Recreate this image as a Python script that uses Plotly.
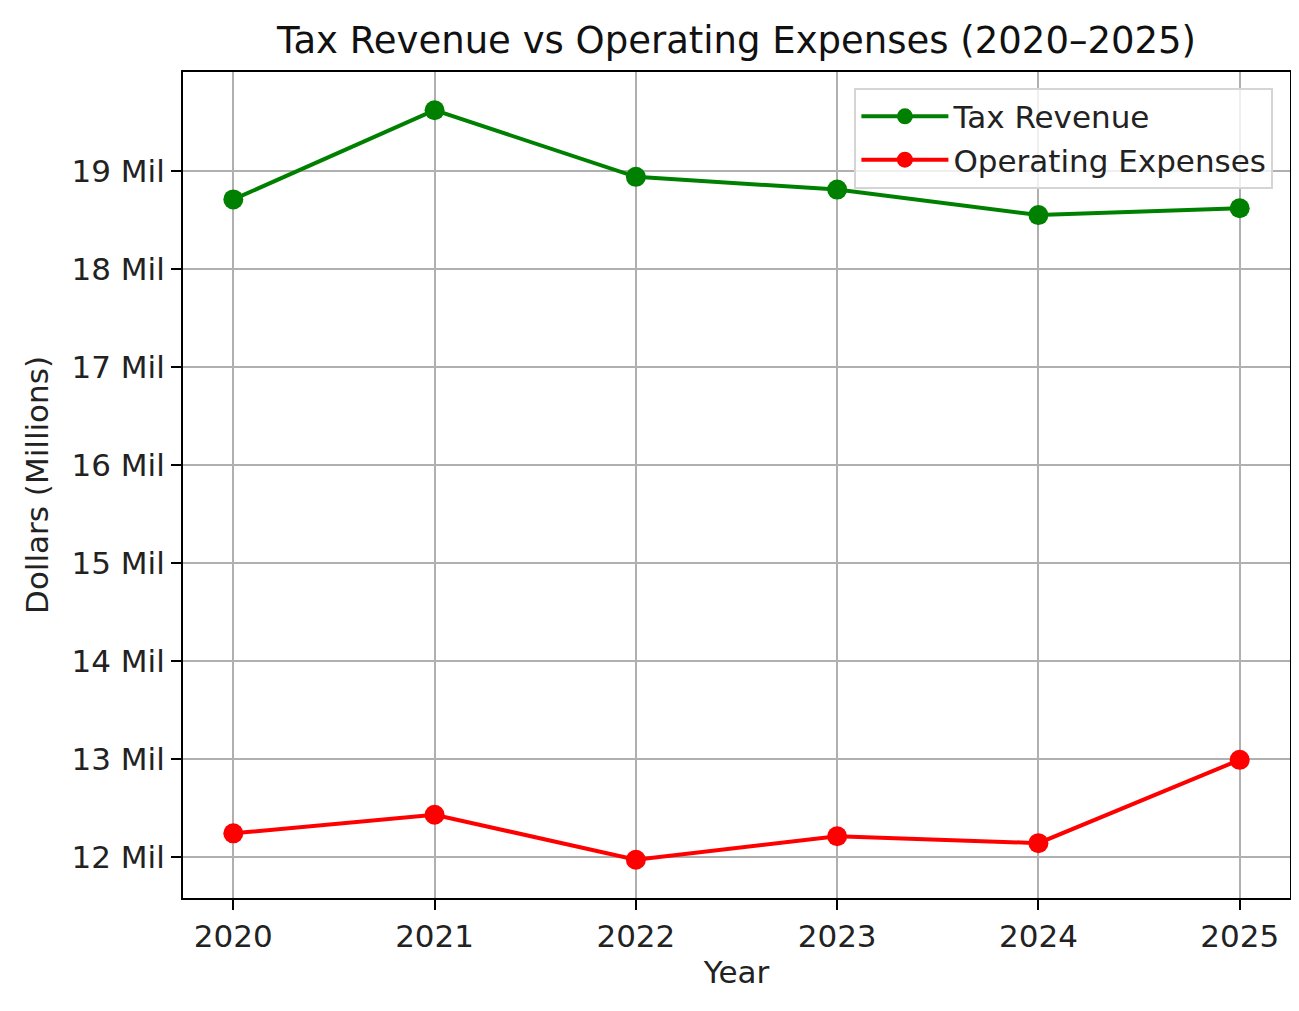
import plotly.graph_objects as go

years = [2020, 2021, 2022, 2023, 2024, 2025]
tax_revenue = [18.71, 19.62, 18.94, 18.81, 18.55, 18.62]
operating_expenses = [12.24, 12.43, 11.97, 12.21, 12.14, 12.99]
y_tick_vals = [12, 13, 14, 15, 16, 17, 18, 19]
y_tick_text = ["12 Mil", "13 Mil", "14 Mil", "15 Mil", "16 Mil", "17 Mil", "18 Mil", "19 Mil"]

# page body has an 8px margin; figure is sized to fit the window inside it
OFF = 8
W, H = 1299 - 2 * OFF, 1011 - 2 * OFF
L, R, T, B = 183 - OFF, 9 - OFF, 72 - OFF, 113 - OFF
FONT = "DejaVu Sans"

fig = go.Figure()
fig.add_trace(go.Scatter(x=years, y=tax_revenue, mode="lines+markers", name="Tax Revenue",
                         line=dict(color="green", width=4), marker=dict(size=20, color="green")))
fig.add_trace(go.Scatter(x=years, y=operating_expenses, mode="lines+markers", name="Operating Expenses",
                         line=dict(color="red", width=4), marker=dict(size=20, color="red")))

fig.update_layout(
    width=W, height=H,
    margin=dict(l=L, r=R, t=T, b=B, autoexpand=False),
    paper_bgcolor="white", plot_bgcolor="white",
    font=dict(family=FONT, size=31, color="#222222"),
    title=dict(text="Tax Revenue vs Operating Expenses (2020–2025)", x=(L + (W - R)) / 2 / W, xanchor="center",
               y=1 - 32 / H, yanchor="middle", font=dict(size=37, color="#111111")),
    showlegend=True,
    legend=dict(x=0.985, y=0.981, xanchor="right", yanchor="top",
                bgcolor="rgba(255,255,255,0.8)", bordercolor="#d5d5d5", borderwidth=2,
                font=dict(size=31, color="#222222"), itemwidth=87),
    xaxis=dict(range=[2019.75, 2025.25], tickvals=years, ticktext=[str(y) for y in years],
               showgrid=True, gridcolor="#b0b0b0", gridwidth=2,
               showline=True, linecolor="black", linewidth=2, mirror=True,
               ticks="outside", ticklen=10, tickwidth=2, tickcolor="black",
               zeroline=False, title=dict(text="Year", standoff=8, font=dict(size=31))),
    yaxis=dict(range=[11.58, 20.01], tickvals=y_tick_vals, ticktext=y_tick_text,
               showgrid=True, gridcolor="#b0b0b0", gridwidth=2,
               showline=True, linecolor="black", linewidth=2, mirror=True,
               ticks="outside", ticklen=10, tickwidth=2, tickcolor="black",
               zeroline=False, title=dict(text="Dollars (Millions)", standoff=14, font=dict(size=31))),
)

fig.write_html("out.html")
